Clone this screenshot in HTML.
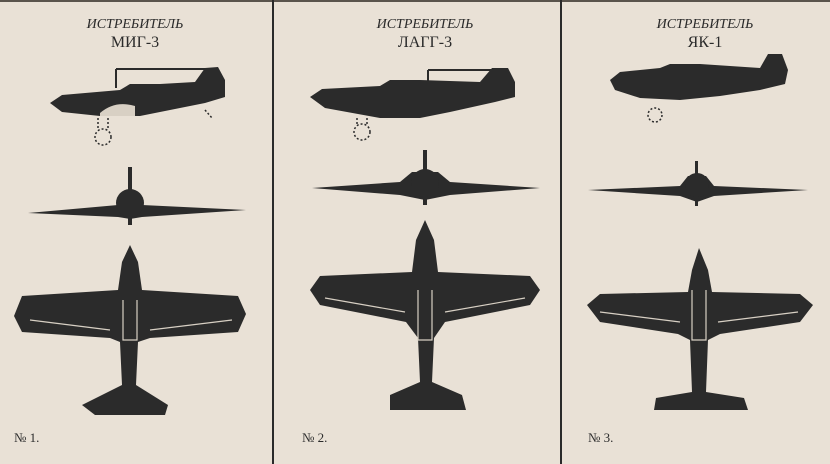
<!DOCTYPE html>
<html><head><meta charset="utf-8"><style>
html,body{margin:0;padding:0;background:#e9e1d6;}
svg{display:block}
text{font-family:"Liberation Serif",serif;fill:#2a2a2a}
</style></head><body>
<svg width="830" height="464" viewBox="0 0 830 464" xmlns="http://www.w3.org/2000/svg">
<rect width="830" height="464" fill="#e9e1d6"/>
<rect x="0" y="0" width="830" height="2" fill="#5a544c"/>
<line x1="273" y1="0" x2="273" y2="464" stroke="#2a2a2a" stroke-width="2"/>
<line x1="561" y1="0" x2="561" y2="464" stroke="#2a2a2a" stroke-width="2"/>
<g fill="#2b2b2b">
<!-- Panel 1 -->
<text x="135" y="28" font-size="14" font-style="italic" text-anchor="middle">ИСТРЕБИТЕЛЬ</text>
<text x="135" y="47" font-size="16" text-anchor="middle">МИГ-3</text>
<line x1="116" y1="69" x2="205" y2="69" stroke="#2b2b2b" stroke-width="2"/>
<line x1="116" y1="69" x2="116" y2="88" stroke="#2b2b2b" stroke-width="2"/>
<path d="M50 103 L62 95 L120 90 L130 84 L160 84 L195 82 L205 68 L218 67 L225 80 L225 97 L205 103 L170 110 L140 116 L100 116 L62 112 Z"/>
<path d="M100 113 Q115 100 135 106 L135 116 L100 116Z" fill="#d8d0c4"/>
<g fill="none" stroke="#2b2b2b" stroke-width="1.5" stroke-dasharray="2 2"><circle cx="103" cy="137" r="8"/><path d="M98 118 L98 130 M108 118 L108 130"/><path d="M205 110 L212 118"/></g>
<path d="M28 213 L118 205 L130 203 L142 205 L246 210 L142 217 L130 219 L118 217 Z"/>
<circle cx="130" cy="203" r="14"/>
<rect x="128" y="167" width="4" height="58"/>
<path d="M130 245 L138 262 L142 290 L238 296 L246 314 L238 332 L150 338 L138 342 L136 385 L168 405 L165 415 L95 415 L82 405 L122 385 L120 342 L110 338 L22 332 L14 316 L22 296 L118 290 L122 262 Z"/>
<g stroke="#d8d0c4" stroke-width="1.2" fill="none"><path d="M30 320 L110 330 M150 330 L232 320 M123 300 L123 340 L137 340 L137 300"/></g>
<!-- Panel 2 -->
<text x="425" y="28" font-size="14" font-style="italic" text-anchor="middle">ИСТРЕБИТЕЛЬ</text>
<text x="425" y="47" font-size="16" text-anchor="middle">ЛАГГ-3</text>
<line x1="428" y1="70" x2="500" y2="70" stroke="#2b2b2b" stroke-width="2"/>
<line x1="428" y1="70" x2="428" y2="84" stroke="#2b2b2b" stroke-width="2"/>
<path d="M310 97 L322 89 L380 86 L390 80 L420 80 L480 82 L492 68 L508 68 L515 82 L515 97 L495 102 L450 112 L420 118 L380 118 L325 108 Z"/>
<g fill="none" stroke="#2b2b2b" stroke-width="1.5" stroke-dasharray="2 2"><circle cx="362" cy="132" r="8"/><path d="M357 118 L357 125 M367 118 L367 125"/></g>
<path d="M312 188 L400 182 L412 172 L438 172 L450 182 L540 188 L450 195 L425 200 L400 195 Z"/>
<circle cx="425" cy="183" r="14"/>
<rect x="423" y="150" width="4" height="55"/>
<path d="M425 220 L434 240 L438 272 L530 276 L540 290 L530 305 L445 322 L434 338 L432 382 L462 395 L466 410 L390 410 L390 395 L420 382 L418 338 L406 322 L320 305 L310 290 L320 276 L412 272 L416 240 Z"/>
<g stroke="#d8d0c4" stroke-width="1.2" fill="none"><path d="M325 298 L405 312 M445 312 L525 298 M418 290 L418 340 L432 340 L432 290"/></g>
<!-- Panel 3 -->
<text x="705" y="28" font-size="14" font-style="italic" text-anchor="middle">ИСТРЕБИТЕЛЬ</text>
<text x="705" y="47" font-size="16" text-anchor="middle">ЯК-1</text>
<path d="M610 80 L620 72 L660 68 L670 64 L700 64 L760 68 L768 54 L782 54 L788 70 L785 84 L760 90 L720 96 L680 100 L640 98 L615 90 Z"/>
<g fill="none" stroke="#2b2b2b" stroke-width="1.5" stroke-dasharray="2 2"><circle cx="655" cy="115" r="7"/></g>
<path d="M588 190 L680 186 L688 176 L706 176 L714 186 L808 190 L714 196 L697 202 L680 196 Z"/>
<circle cx="697" cy="185" r="12"/>
<rect x="695" y="161" width="3" height="45"/>
<path d="M699 248 L708 270 L712 292 L800 294 L813 305 L800 322 L720 334 L708 340 L706 392 L744 398 L748 410 L654 410 L656 398 L692 392 L690 340 L678 334 L600 322 L587 305 L600 294 L688 292 L692 270 Z"/>
<g stroke="#d8d0c4" stroke-width="1.2" fill="none"><path d="M600 312 L680 322 M718 322 L798 312 M692 290 L692 340 L706 340 L706 290"/></g>
</g>
<g font-size="13">
<text x="14" y="442">№ 1.</text>
<text x="302" y="442">№ 2.</text>
<text x="588" y="442">№ 3.</text>
</g>
</svg>
</body></html>
